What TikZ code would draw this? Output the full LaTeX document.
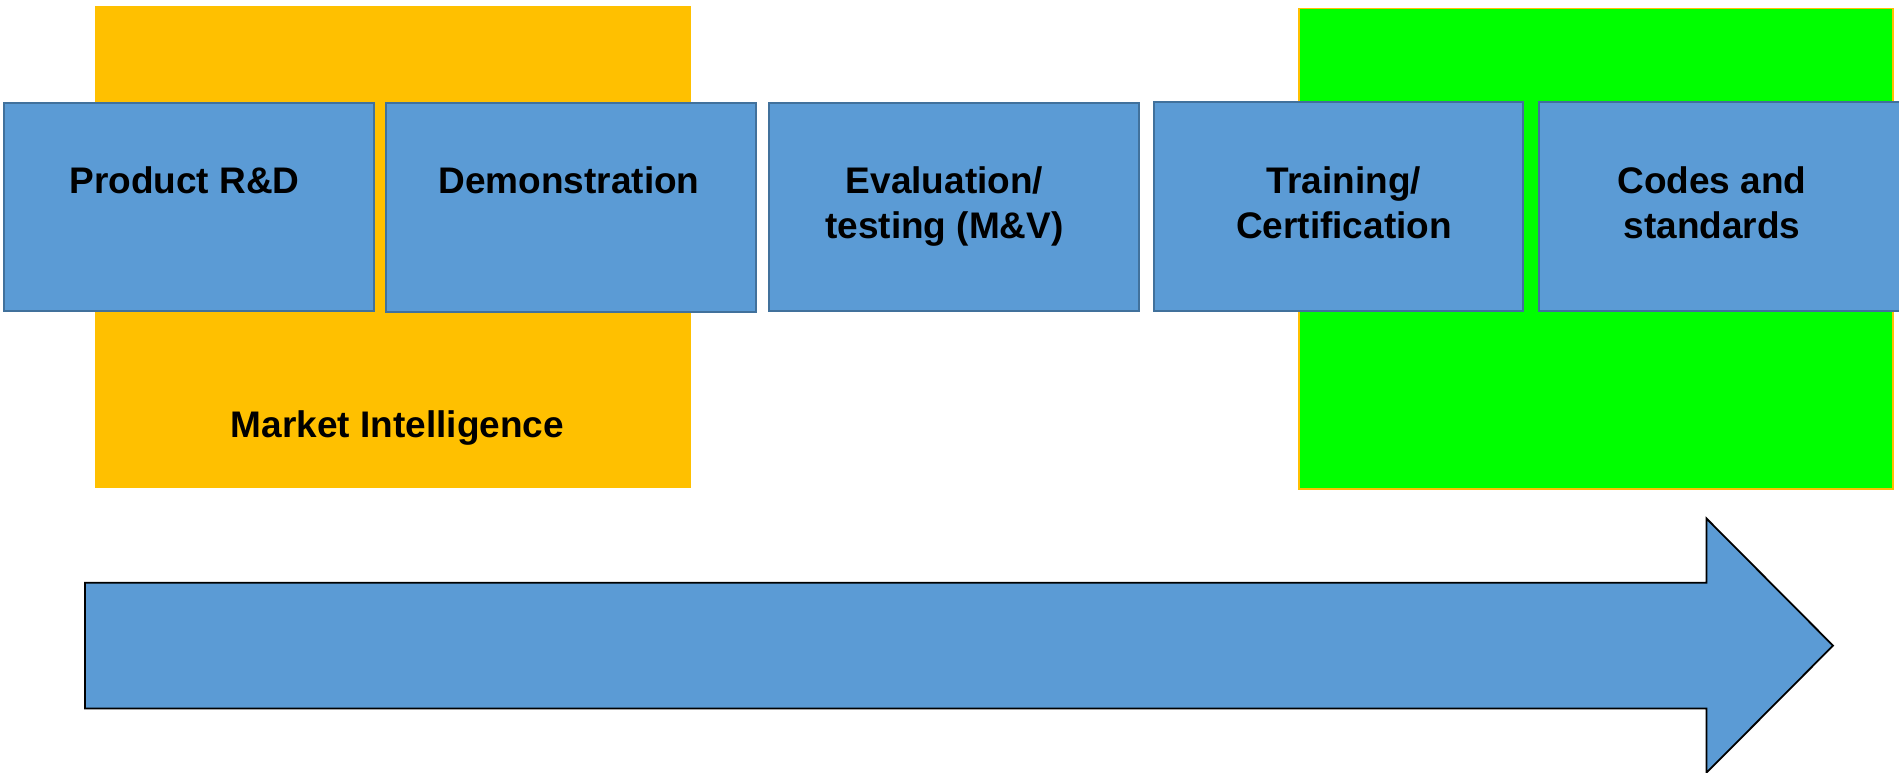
\documentclass[tikz,border=0pt]{standalone}
\usepackage{fontspec}
\setmainfont{Liberation Sans}
\definecolor{stagefill}{HTML}{5B9BD5}
\definecolor{stageedge}{HTML}{41719C}
\definecolor{intelfill}{HTML}{FFC000}
\definecolor{adoptfill}{HTML}{00FF00}
\tikzset{
  stagebox/.style={draw=stageedge, line width=2pt, fill=stagefill, inner sep=0pt},
  stagetext/.style={font=\fontsize{37}{45}\selectfont\bfseries, align=center, inner sep=0pt, anchor=base},
  bandbox/.style={inner sep=0pt, anchor=north west},
  flowarrow/.style={draw=black, line width=1.8pt, fill=stagefill, line join=miter}
}
\begin{document}
\begin{tikzpicture}[x=1pt, y=-1pt]
\useasboundingbox (0,0) rectangle (1899,772);
\clip (0,0) rectangle (1899,772);

% background bands
\node[bandbox, fill=intelfill, minimum width=595.5pt, minimum height=482pt] (intel) at (95,6) {};
\node[bandbox, fill=adoptfill, draw=intelfill, line width=1.5pt, minimum width=594pt, minimum height=480.5pt] (adopt) at (1298,7.5) {};

% stage boxes
\node[stagebox, minimum width=370pt, minimum height=208.5pt] (prd) at (189,206.75) {};
\node[stagebox, minimum width=370pt, minimum height=209pt] (demo) at (571,207.5) {};
\node[stagebox, minimum width=370pt, minimum height=208pt] (eval) at (954,207) {};
\node[stagebox, minimum width=369.5pt, minimum height=209pt] (train) at (1338.25,206.5) {};
\node[stagebox, minimum width=376pt, minimum height=209pt] (codes) at (1727,206.5) {};

% stage labels (base anchor sits on the last line)
\node[stagetext] (prdlabel) at (184.5,193) {Product R\&D};
\node[stagetext] (demolabel) at (569,193) {Demonstration};
\node[stagetext] (evallabel) at (944.5,238) {Evaluation/\\testing (M\&V)};
\node[stagetext] (trainlabel) at (1344,238) {Training/\\Certification};
\node[stagetext] (codeslabel) at (1712,238) {Codes and\\standards};
\node[stagetext] (intellabel) at (397.5,437) {Market Intelligence};

% progress arrow
\draw[flowarrow] (85,582.7) -- (1706.5,582.7) -- (1706.5,518.5) -- (1833,645.6)
  -- (1706.5,772.7) -- (1706.5,708.5) -- (85,708.5) -- cycle;
\end{tikzpicture}
\end{document}
